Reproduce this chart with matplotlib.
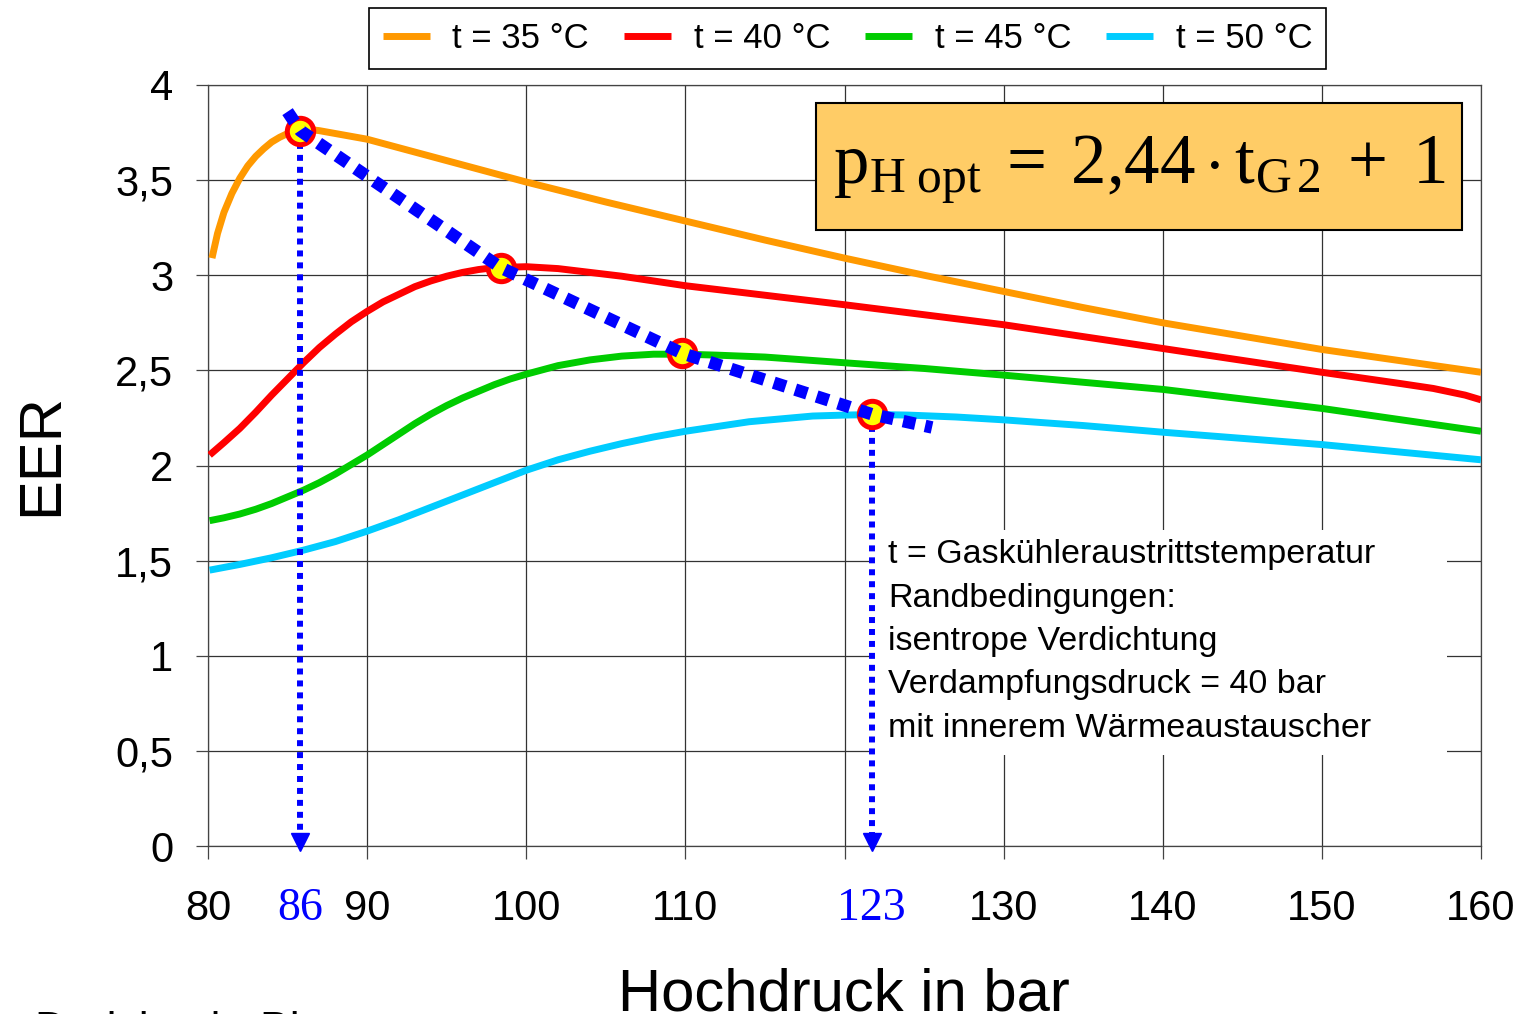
import numpy as np
import matplotlib.pyplot as plt
from matplotlib.patches import Rectangle

plt.rcParams['font.family'] = ['Liberation Sans', 'DejaVu Sans']
plt.rcParams['mathtext.fontset'] = 'custom'
plt.rcParams['mathtext.rm'] = 'Liberation Serif'
plt.rcParams['mathtext.it'] = 'Liberation Serif:italic'

# EER ueber Hochdruck (bar), je Gaskuehleraustrittstemperatur
p35 = [80.25, 80.6, 81, 81.5, 82, 82.5, 83, 83.5, 84, 84.5, 85, 85.5, 86, 87, 88, 89, 90, 92, 94, 96, 98,
       100, 105, 110, 115, 120, 125, 130, 135, 140, 145, 150, 155, 160]
eer35 = [3.09, 3.22, 3.33, 3.43, 3.51, 3.575, 3.625, 3.665, 3.70, 3.725, 3.745, 3.76, 3.77, 3.76, 3.745, 3.73,
         3.715, 3.67, 3.625, 3.58, 3.535, 3.49, 3.385, 3.285, 3.185, 3.09, 3.0, 2.915, 2.83, 2.75, 2.68,
         2.61, 2.55, 2.49]

p40 = [80.1, 81, 82, 83, 84, 85, 86, 87, 88, 89, 90, 91, 92, 93, 94, 95, 96, 97, 98, 100, 102, 104, 106,
       108, 110, 120, 130, 140, 150, 155, 157, 159, 160]
eer40 = [2.055, 2.12, 2.195, 2.28, 2.37, 2.455, 2.54, 2.62, 2.69, 2.755, 2.81, 2.86, 2.90, 2.94, 2.97,
         2.995, 3.015, 3.03, 3.04, 3.045, 3.035, 3.015, 2.995, 2.97, 2.945, 2.845, 2.74, 2.615, 2.49,
         2.43, 2.405, 2.37, 2.345]

p45 = [80.1, 81, 82, 83, 84, 85, 86, 87, 88, 89, 90, 91, 92, 93, 94, 95, 96, 97, 98, 99, 100, 102, 104,
       106, 108, 110, 112, 115, 120, 125, 130, 140, 150, 160]
eer45 = [1.71, 1.725, 1.745, 1.77, 1.80, 1.835, 1.87, 1.91, 1.955, 2.005, 2.055, 2.11, 2.165, 2.22, 2.27,
         2.315, 2.355, 2.39, 2.425, 2.455, 2.48, 2.525, 2.555, 2.575, 2.585, 2.585, 2.58, 2.57, 2.54,
         2.51, 2.475, 2.40, 2.30, 2.18]

p50 = [80.1, 82, 84, 86, 88, 90, 92, 94, 96, 98, 100, 102, 104, 106, 108, 110, 112, 114, 116, 118, 120,
       122, 124, 127, 130, 135, 140, 150, 160]
eer50 = [1.45, 1.48, 1.515, 1.555, 1.60, 1.655, 1.715, 1.78, 1.845, 1.91, 1.975, 2.03, 2.075, 2.115,
         2.15, 2.18, 2.205, 2.23, 2.245, 2.26, 2.265, 2.268, 2.265, 2.255, 2.24, 2.21, 2.175, 2.11, 2.03]

labels = ['t = 35 °C', 't = 40 °C', 't = 45 °C', 't = 50 °C']
colors = ['#FF9900', '#FF0000', '#00CC00', '#00CCFF']

# optimale Hochdruecke
opt_p = [85.8, 98.4, 109.8, 121.7]
opt_eer = [3.76, 3.04, 2.59, 2.27]
trend_p = [85.0, 85.8, 98.4, 109.8, 121.7, 125.5]
trend_eer = [3.86, 3.76, 3.04, 2.59, 2.27, 2.20]
drop_idx = [0, 3]
drop_labels = ['86', '123']

xticks = [80, 90, 100, 110, 120, 130, 140, 150, 160]
xticklabels = ['80', '90', '100', '110', '', '130', '140', '150', '160']
yticks = [0, 0.5, 1, 1.5, 2, 2.5, 3, 3.5, 4]
yticklabels = ['0', '0,5', '1', '1,5', '2', '2,5', '3', '3,5', '4']

notes = ['t = Gaskühleraustrittstemperatur',
         'Randbedingungen:',
         'isentrope Verdichtung',
         'Verdampfungsdruck = 40 bar',
         'mit innerem Wärmeaustauscher']

W, H = 1521, 1014
fig = plt.figure(figsize=(W / 100, H / 100), dpi=100)
ax = fig.add_axes([208 / W, 1 - 846 / H, 1273 / W, 761 / H])

ax.set_xlim(80, 160)
ax.set_ylim(0, 4)
ax.set_xticks(xticks)
ax.set_xticklabels(xticklabels)
ax.set_yticks(yticks)
ax.set_yticklabels(yticklabels)
ax.tick_params(axis='both', direction='out', length=9, width=0.9, color='#444', labelsize=30)
ax.tick_params(axis='x', pad=22)
ax.tick_params(axis='y', pad=16)
ax.grid(True, color='#333', lw=0.9)
ax.set_axisbelow(True)
for s in ax.spines.values():
    s.set_color('#444')
    s.set_linewidth(0.9)

lines = []
for px, py, c, lab in zip([p35, p40, p45, p50], [eer35, eer40, eer45, eer50], colors, labels):
    ln, = ax.plot(px, py, color=c, lw=5, label=lab, zorder=3,
                  solid_capstyle='butt', solid_joinstyle='round')
    lines.append(ln)

# senkrechte Pfeile zu den Drueckachsen
for i in drop_idx:
    ax.plot([opt_p[i], opt_p[i]], [opt_eer[i], 0.07], color='#0000FF', lw=4.3,
            dashes=(1, 1), zorder=4)
    ax.plot(opt_p[i], 0.02, marker='v', color='#0000FF', markersize=13, clip_on=False, zorder=4)

ax.plot(opt_p, opt_eer, 'o', markersize=19, markerfacecolor='#FFFF00',
        markeredgecolor='#FF0000', markeredgewidth=3.6, zorder=5)
ax.plot(trend_p, trend_eer, color='#0000FF', lw=9, dashes=(1, 0.8), zorder=6)

# Formelkasten
ax.add_patch(Rectangle((0.4776, 0.8095), 0.5075, 0.1668, transform=ax.transAxes,
                       facecolor='#FFCC66', edgecolor='black', lw=1.5, zorder=7))
ax.text(0.7313, 0.888,
        r'$\mathrm{p}_{\mathrm{H\ opt}}\;=\;2{,}44\cdot\mathrm{t}_{\mathrm{G\,2}}\;+\;1$',
        transform=ax.transAxes, ha='center', va='center', fontsize=51, zorder=8)

# Randbedingungen
ax.add_patch(Rectangle((0.5235, 0.1196), 0.45, 0.2956, transform=ax.transAxes,
                       facecolor='white', edgecolor='none', zorder=2))
for k, t in enumerate(notes):
    ax.text(0.5342, 0.3824 - k * 0.0569, t, transform=ax.transAxes, ha='left', va='center',
            fontsize=24.5, zorder=3)

for i, lab in zip(drop_idx, drop_labels):
    ax.text(opt_p[i], -0.082, lab, transform=ax.get_xaxis_transform(), ha='center', va='center',
            fontsize=33, color='#0000FF', family='Liberation Serif')

leg = fig.legend(handles=lines, loc='upper center', bbox_to_anchor=(847.5 / W, 1 - 8 / H), ncol=4,
                 fontsize=25, frameon=True, fancybox=False, edgecolor='black', framealpha=1,
                 handlelength=1.35, handletextpad=0.66, columnspacing=1.0, borderaxespad=0)
leg.get_frame().set_linewidth(1.2)

fig.text(42 / W, 1 - 455 / H, 'EER', rotation=90, ha='center', va='center', fontsize=43)
fig.text(844 / W, 0.003, 'Hochdruck in bar', ha='center', va='baseline', fontsize=43)
fig.text(35 / W, 1 - 1010 / H, 'Dreisbach, Bitzer', ha='left', va='top', fontsize=32)

fig.savefig('out.png', dpi=100)
